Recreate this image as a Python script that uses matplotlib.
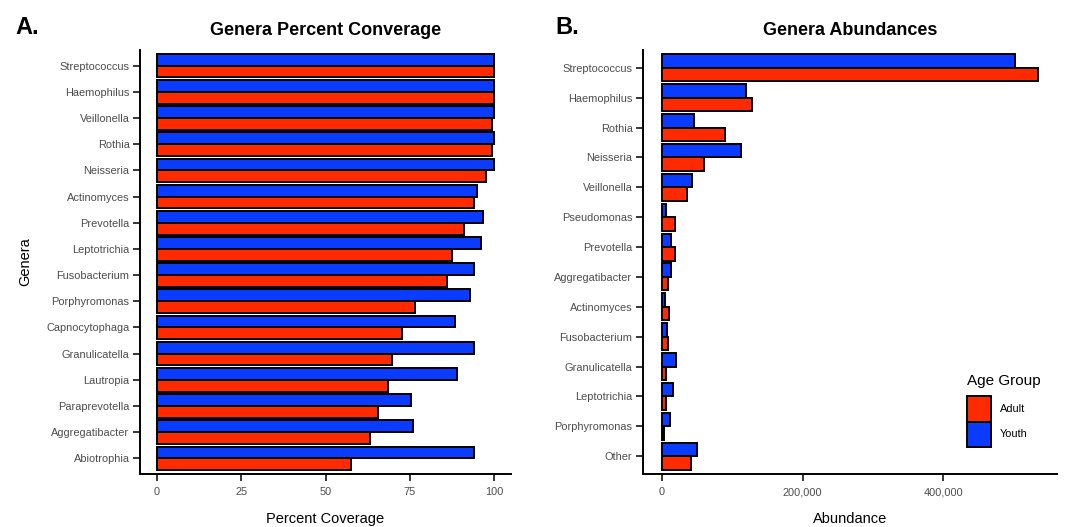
import matplotlib
matplotlib.use("Agg")
import matplotlib.pyplot as plt
from matplotlib.patches import Patch
from matplotlib.ticker import FuncFormatter

plt.rcParams["font.family"] = ["Liberation Sans", "DejaVu Sans"]

# panel A: percent of samples in which each genus was detected
coverage_genera = ["Streptococcus", "Haemophilus", "Veillonella", "Rothia", "Neisseria",
                   "Actinomyces", "Prevotella", "Leptotrichia", "Fusobacterium",
                   "Porphyromonas", "Capnocytophaga", "Granulicatella", "Lautropia",
                   "Paraprevotella", "Aggregatibacter", "Abiotrophia"]
coverage_youth = [100, 100, 100, 100, 100, 94.9, 96.6, 96.0, 93.9, 92.7, 88.3, 93.9, 88.9, 75.4, 76.0, 93.9]
coverage_adult = [100, 100, 99.3, 99.3, 97.5, 94.1, 91.2, 87.6, 86.1, 76.6, 72.7, 69.8, 68.6, 65.7, 63.3, 57.5]

# panel B: total read abundance per genus
abund_genera = ["Streptococcus", "Haemophilus", "Rothia", "Neisseria", "Veillonella",
                "Pseudomonas", "Prevotella", "Aggregatibacter", "Actinomyces",
                "Fusobacterium", "Granulicatella", "Leptotrichia", "Porphyromonas", "Other"]
abund_youth = [500900, 119400, 45500, 112300, 42200, 5700, 12800, 12800, 4300, 6700, 19500, 16200, 11400, 49300]
abund_adult = [534500, 127900, 90100, 59300, 35600, 19000, 19000, 9000, 9500, 8100, 6200, 6200, 3800, 41200]

RED = "#ff2a00"
BLUE = "#0a3cff"
TICK_GREY = "#4d4d4d"
TICK_SIZE = 7.9


def dodged_barh(ax, labels, youth, adult):
    n = len(labels)
    pos = list(range(n))
    h = 0.45
    ax.barh([p - h / 2 for p in pos], youth, height=h, color=BLUE, edgecolor="black", linewidth=1.4)
    ax.barh([p + h / 2 for p in pos], adult, height=h, color=RED, edgecolor="black", linewidth=1.4)
    ax.set_yticks(pos)
    ax.set_yticklabels(labels)
    ax.set_ylim(n - 1 + 0.6, -0.6)
    for side in ("top", "right"):
        ax.spines[side].set_visible(False)
    for side in ("left", "bottom"):
        ax.spines[side].set_linewidth(1.4)
    ax.tick_params(axis="both", length=5, width=1.1, color="black", labelsize=TICK_SIZE, labelcolor=TICK_GREY)
    ax.tick_params(axis="y", pad=2.5)
    ax.tick_params(axis="x", pad=4.5)


fig = plt.figure(figsize=(10.73, 5.27), dpi=100)
W, H = 1073, 527
ax_a = fig.add_axes([140 / W, 1 - 474 / H, (511 - 140) / W, (474 - 50) / H])
ax_b = fig.add_axes([643 / W, 1 - 474 / H, (1057 - 643) / W, (474 - 50) / H])

dodged_barh(ax_a, coverage_genera, coverage_youth, coverage_adult)
ax_a.set_xlim(-5, 105)
ax_a.set_xticks([0, 25, 50, 75, 100])
ax_a.set_xlabel("Percent Coverage", fontsize=10.5, labelpad=11)
ax_a.set_ylabel("Genera", fontsize=10.5, labelpad=10)
ax_a.set_title("Genera Percent Converage", fontsize=13, fontweight="bold", pad=11)

dodged_barh(ax_b, abund_genera, abund_youth, abund_adult)
top = max(max(abund_youth), max(abund_adult))
ax_b.set_xlim(-0.05 * top, 1.05 * top)
ax_b.set_xticks([0, 200000, 400000])
ax_b.xaxis.set_major_formatter(FuncFormatter(lambda v, _: f"{int(v):,}"))
ax_b.set_xlabel("Abundance", fontsize=10.5, labelpad=11)
ax_b.set_title("Genera Abundances", fontsize=13, fontweight="bold", pad=11)

# legend keys with the title set a little apart, ggplot style
handles = [Patch(facecolor=RED, edgecolor="black", linewidth=1.4, label="Adult"),
           Patch(facecolor=BLUE, edgecolor="black", linewidth=1.4, label="Youth")]
ax_b.legend(handles=handles, loc="upper left",
            bbox_to_anchor=(967 / W, 1 - 396 / H), bbox_transform=fig.transFigure,
            frameon=False, fontsize=TICK_SIZE, borderpad=0,
            handlelength=17.5 / TICK_SIZE, handleheight=3.2, labelspacing=0.0,
            handletextpad=0.75, borderaxespad=0)
fig.text(967 / W, 1 - 381 / H, "Age Group", fontsize=11, va="center", ha="left")

fig.text(15 / W, 1 - 27 / H, "A.", fontsize=17, fontweight="bold", va="center")
fig.text(555 / W, 1 - 27 / H, "B.", fontsize=17, fontweight="bold", va="center")

fig.savefig("out.png", dpi=100)
